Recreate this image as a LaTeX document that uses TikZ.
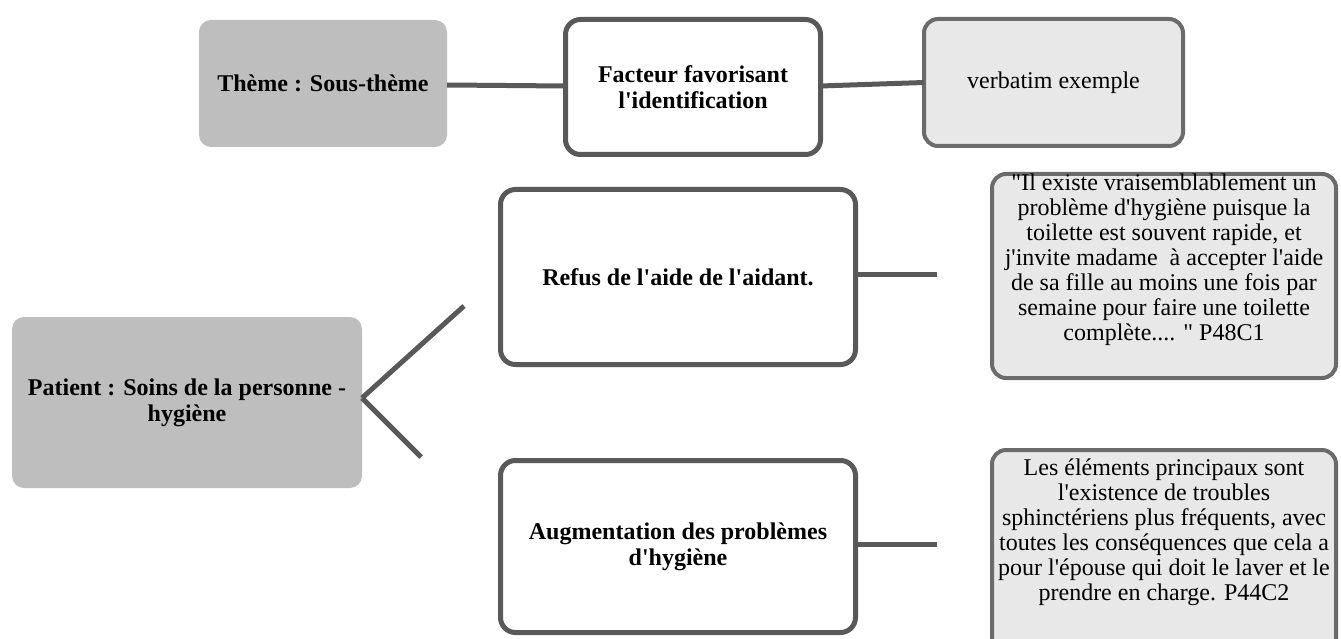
\documentclass[tikz,border=0pt]{standalone}
\usepackage{fontspec}
\setmainfont{Liberation Serif}[Ligatures=TeXOff]
\definecolor{themegray}{HTML}{BEBEBE}
\definecolor{linegray}{HTML}{595959}
\definecolor{verbfill}{HTML}{E8E8E8}
\definecolor{verbline}{HTML}{6B6B6B}
\begin{document}
\begin{tikzpicture}[x=1pt,y=-1pt,
  every node/.style={inner sep=0pt, outer sep=0pt},
  themebox/.style={rectangle, fill=themegray, rounded corners=12pt},
  factbox/.style={rectangle, draw=linegray, line width=5pt, fill=white, rounded corners=15pt},
  verbbox/.style={rectangle, draw=verbline, line width=4pt, fill=verbfill, rounded corners=14pt},
  boldtext/.style={font=\bfseries\fontsize{24}{26}\selectfont, align=center},
  plaintext/.style={font=\fontsize{24}{25}\selectfont, align=center},
  link/.style={draw=linegray, line width=5pt}]
\useasboundingbox (0,0) rectangle (1341,639);
\clip (0,0) rectangle (1341,639);

% top row
\node[themebox, boldtext, minimum width=248pt, minimum height=127pt] (theme) at (323,83.5) {Thème : Sous-thème};
\node[factbox, boldtext, minimum width=255pt, minimum height=135pt] (fact) at (693,87) {Facteur favorisant\\l'identification};
\node[verbbox, plaintext, minimum width=259pt, minimum height=127pt] (verb) at (1053.5,82.5) {verbatim exemple};

% left theme
\node[themebox, boldtext, minimum width=350pt, minimum height=171pt] (patient) at (187,402.5) {Patient : Soins de la personne -\\hygiène};

% middle boxes
\node[factbox, boldtext, minimum width=355pt, minimum height=175pt] (refus) at (678,277) {Refus de l'aide de l'aidant.};
\node[factbox, boldtext, minimum width=355pt, minimum height=172pt] (aug) at (678,546.5) {Augmentation des problèmes\\d'hygiène};

% quote boxes
\node[verbbox, minimum width=344pt, minimum height=204pt] (q1) at (1164,276) {};
\node[plaintext] (q1text) at (1164,260) {"Il existe vraisemblablement un\\problème d'hygiène puisque la\\toilette est souvent rapide, et\\j'invite madame\ \ à accepter l'aide\\de sa fille au moins une fois par\\semaine pour faire une toilette\\complète.... " P48C1};
\node[verbbox, minimum width=344pt, minimum height=204pt] (q2) at (1164,552) {};
\node[plaintext] (q2text) at (1164,532.5) {Les éléments principaux sont\\l'existence de troubles\\sphinctériens plus fréquents, avec\\toutes les conséquences que cela a\\pour l'épouse qui doit le laver et le\\prendre en charge. P44C2};

% connectors
\draw[link] ([yshift=-1.5pt]theme.east) -- ([yshift=1pt]fact.west);
\draw[link] ([yshift=1pt]fact.east) -- (verb.west);
\coordinate (vtop) at (464,306);
\coordinate (vbot) at (421,457);
\draw[link] ([yshift=4.5pt]patient.east) -- (vtop);
\draw[link] ([yshift=4.5pt]patient.east) -- (vbot);
\coordinate (refusend) at (937,274);
\draw[link] ([yshift=3pt]refus.east) -- (refusend);
\coordinate (augend) at (937,544);
\draw[link] ([yshift=2.5pt]aug.east) -- (augend);
\end{tikzpicture}
\end{document}
